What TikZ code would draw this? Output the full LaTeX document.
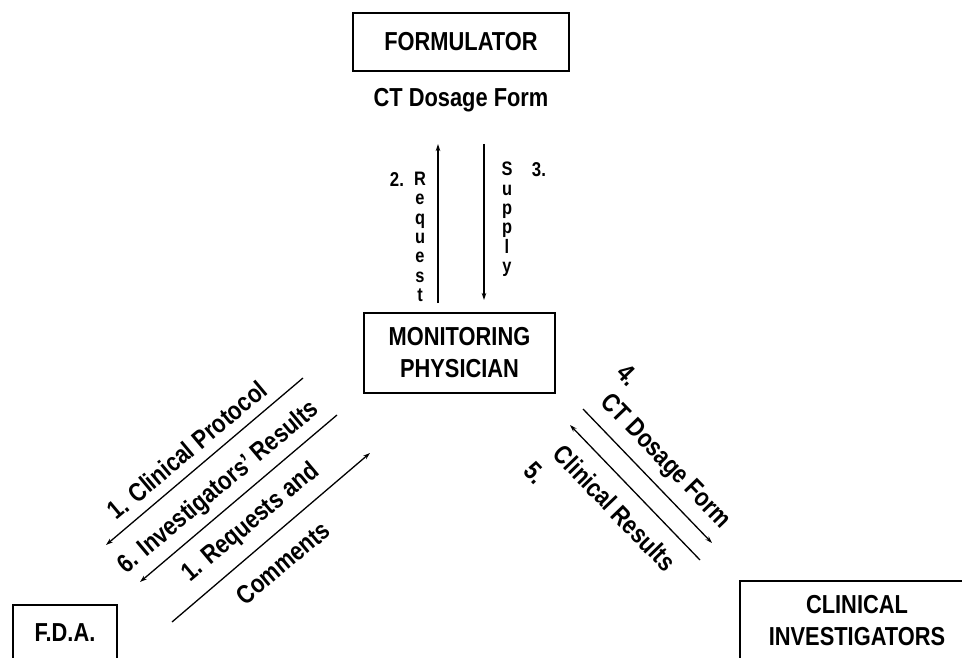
\documentclass[tikz,border=0pt]{standalone}
\usepackage{fontspec}
\newfontfamily\labfont{Liberation Sans}[FakeStretch=0.84]
\usetikzlibrary{arrows.meta}
\begin{document}
\begin{tikzpicture}[x=1pt,y=-1pt,
  box/.style={draw, line width=1.6pt, inner sep=0pt, align=center,
    font=\labfont\bfseries\fontsize{26}{32}\selectfont},
  lbl/.style={inner sep=0pt, font=\labfont\bfseries\fontsize{26}{28}\selectfont},
  vlbl/.style={inner sep=0pt, align=center, font=\labfont\bfseries\fontsize{19.5}{19.3}\selectfont},
  slbl/.style={inner sep=0pt, font=\labfont\bfseries\fontsize{20}{20}\selectfont},
  arr/.style={line width=1.3pt, -{Stealth[length=7pt,width=4.5pt]}},
]
\useasboundingbox (0,0) rectangle (962,658);
\clip (0,0) rectangle (962,658);

% boxes
\node[box, minimum width=216pt, minimum height=58pt] (form) at (461,42) {FORMULATOR};
\node[lbl] (ctd) at (461,100) {CT Dosage Form};
\node[box, minimum width=191pt, minimum height=80pt] (mp) at (459.5,353) {MONITORING\\PHYSICIAN};
\node[box, minimum width=104pt, minimum height=56pt] (fda) at (65,633) {F.D.A.};
\node[box, minimum width=234pt, minimum height=80pt] (ci) at (857,621) {CLINICAL\\INVESTIGATORS};

% vertical arrows
\coordinate (rq1) at (438,303);
\coordinate (rq2) at (438,144);
\coordinate (sp1) at (484,144);
\coordinate (sp2) at (484,300);
\draw[arr] (rq1) -- (rq2);
\draw[arr] (sp1) -- (sp2);
\node[vlbl, anchor=north] (req) at (420,172) {R\\e\\q\\u\\e\\s\\t};
\node[slbl, anchor=base] (n2) at (397,186) {2.};
\node[vlbl, anchor=north] (sup) at (507,162) {S\\u\\p\\p\\l\\y};
\node[slbl, anchor=base] (n3) at (539,177) {3.};

% left arrows
\coordinate (a1s) at (303,378);
\coordinate (a1e) at (106,545);
\coordinate (a2s) at (337,415);
\coordinate (a2e) at (140,582);
\coordinate (a3s) at (172,622);
\coordinate (a3e) at (370,453);
\draw[arr] (a1s) -- (a1e);
\draw[arr] (a2s) -- (a2e);
\draw[arr] (a3s) -- (a3e);
\node[lbl, rotate=40] (cp) at (187,450) {1. Clinical Protocol};
\node[lbl, rotate=40] (ir) at (219,488) {6. Investigators’ Results};
\node[lbl, rotate=40] (rqa) at (251,523) {1. Requests and};
\node[lbl, rotate=40] (cm) at (283,563) {Comments};

% right arrows
\coordinate (a4s) at (583,409);
\coordinate (a4e) at (712,543);
\coordinate (a5s) at (700,560);
\coordinate (a5e) at (570,425);
\draw[arr] (a4s) -- (a4e);
\draw[arr] (a5s) -- (a5e);
\node[lbl, rotate=-46] (n4) at (628,375) {4.};
\node[lbl, rotate=-46] (ctr) at (665,462) {CT Dosage Form};
\node[lbl, rotate=-46] (clr) at (615,508) {Clinical Results};
\node[lbl, rotate=-46] (n5) at (535,473) {5.};
\end{tikzpicture}
\end{document}
